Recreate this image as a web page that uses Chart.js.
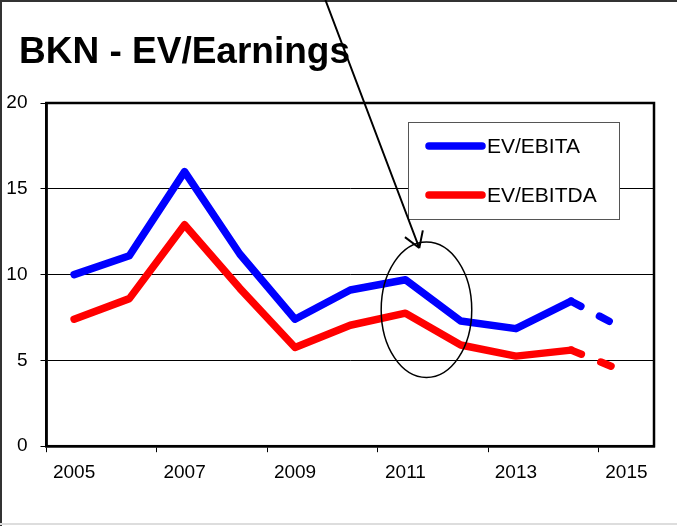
<!DOCTYPE html>
<html>
<head>
<meta charset="utf-8">
<script src="https://cdn.jsdelivr.net/npm/chart.js@4/dist/chart.umd.min.js"></script>
<style>
  body { margin: 0; background: #fff; }
  canvas { display: block; }
</style>
</head>
<body>
<canvas id="evChart" width="677" height="526"></canvas>
<script>
// data
const years = ['2005', '2006', '2007', '2008', '2009', '2010', '2011', '2012', '2013', '2014', '2015'];
const evEbita = [10.0, 11.1, 16.0, 11.2, 7.4, 9.1, 9.7, 7.3, 6.85, 8.45, 6.75];
const evEbitda = [7.4, 8.6, 12.9, 9.2, 5.75, 7.05, 7.75, 5.9, 5.25, 5.6, 4.3];
const yTicks = [0, 5, 10, 15, 20];
const chartTitle = 'BKN - EV/Earnings';

const FONT = '"Liberation Sans", Arial, sans-serif';

// last segment (estimate) is dashed
const dashLast = ctx => ctx.p1DataIndex === years.length - 1 ? [11, 21] : undefined;

// frame, title, plot box, legend box, circle and arrow
const extras = {
  id: 'extras',
  beforeDraw(chart) {
    const c = chart.ctx;
    c.save();
    c.fillStyle = '#fff';
    c.fillRect(0, 0, chart.width, chart.height);
    c.strokeStyle = '#333';
    c.lineWidth = 2;
    c.beginPath();
    c.moveTo(1, chart.height);
    c.lineTo(1, 1);
    c.lineTo(chart.width, 1);
    c.stroke();
    c.strokeStyle = '#ddd';
    c.beginPath();
    c.moveTo(0, chart.height - 2);
    c.lineTo(chart.width, chart.height - 2);
    c.stroke();
    // title
    c.fillStyle = '#000';
    c.font = 'bold 37px ' + FONT;
    c.textBaseline = 'alphabetic';
    c.fillText(chartTitle, 19, 63);
    c.restore();
  },
  afterDraw(chart) {
    const c = chart.ctx;
    const a = chart.chartArea;
    const x = chart.scales.x, y = chart.scales.y;
    c.save();
    // plot box
    c.strokeStyle = '#000';
    c.lineWidth = 2.5;
    c.strokeRect(a.left, a.top, a.right - a.left, a.bottom - a.top);

    // legend
    const lx = 408, ly = 122, lw = 211, lh = 97;
    c.fillStyle = '#fff';
    c.fillRect(lx, ly, lw, lh);
    c.strokeStyle = '#555';
    c.lineWidth = 1;
    c.strokeRect(lx + 0.5, ly + 0.5, lw, lh);
    c.font = '21px ' + FONT;
    c.textBaseline = 'middle';
    c.lineCap = 'round';
    chart.data.datasets.forEach((ds, i) => {
      const yy = ly + 24 + i * 49;
      c.strokeStyle = ds.borderColor;
      c.lineWidth = 7.5;
      c.beginPath();
      c.moveTo(lx + 21, yy);
      c.lineTo(lx + 74, yy);
      c.stroke();
      c.fillStyle = '#000';
      c.fillText(ds.label, lx + 79, yy + 1);
    });

    // ellipse around 2011
    const cx = x.getPixelForValue(6.38), cy = y.getPixelForValue(7.95);
    const rx = x.getPixelForValue(7.2) - x.getPixelForValue(6.38);
    const ry = y.getPixelForValue(7.95) - y.getPixelForValue(11.9);
    c.strokeStyle = '#000';
    c.lineWidth = 1.5;
    c.beginPath();
    c.ellipse(cx, cy, rx, ry, 0, 0, Math.PI * 2);
    c.stroke();

    // arrow
    const tx = x.getPixelForValue(6.25), ty = y.getPixelForValue(11.55);
    const sx = x.getPixelForValue(4.55), sy = 0;
    const ang = Math.atan2(ty - sy, tx - sx);
    c.lineWidth = 2;
    c.lineCap = 'butt';
    c.beginPath();
    c.moveTo(sx, sy);
    c.lineTo(tx, ty);
    [-0.56, 0.56].forEach(d => {
      c.moveTo(tx, ty);
      c.lineTo(tx - 18 * Math.cos(ang + d), ty - 18 * Math.sin(ang + d));
    });
    c.stroke();
    c.restore();
  }
};

new Chart(document.getElementById('evChart'), {
  type: 'line',
  data: {
    labels: years,
    datasets: [{
      label: 'EV/EBITA',
      data: evEbita,
      borderColor: '#0000ff',
      borderWidth: 7.5,
      borderCapStyle: 'round',
      borderJoinStyle: 'round',
      pointRadius: 0,
      tension: 0,
      segment: { borderDash: dashLast }
    }, {
      label: 'EV/EBITDA',
      data: evEbitda,
      borderColor: '#ff0000',
      borderWidth: 7.5,
      borderCapStyle: 'round',
      borderJoinStyle: 'round',
      pointRadius: 0,
      tension: 0,
      segment: { borderDash: dashLast }
    }]
  },
  options: {
    responsive: false,
    animation: false,
    layout: { padding: { left: 4, right: 23, top: 103, bottom: 33 } },
    plugins: {
      legend: { display: false },
      tooltip: { enabled: false },
      title: { display: false }
    },
    scales: {
      x: {
        type: 'category',
        offset: true,
        grid: {
          offset: true,
          drawOnChartArea: false,
          drawTicks: true,
          tickLength: 6,
          lineWidth: 1,
          color: ctx => ctx.index % 2 === 0 ? '#000' : 'rgba(0,0,0,0)'
        },
        border: { color: '#000', width: 2.5 },
        ticks: {
          autoSkip: false,
          maxRotation: 0,
          color: '#000',
          padding: 9,
          font: { family: FONT, size: 19 },
          callback: (v, i) => i % 2 === 0 ? years[i] : ''
        }
      },
      y: {
        min: yTicks[0],
        max: yTicks[yTicks.length - 1],
        afterFit: s => { s.width = 42.5; },
        afterBuildTicks: s => { s.ticks = yTicks.map(v => ({ value: v })); },
        grid: { color: '#000', lineWidth: 1, drawTicks: true, tickLength: 6 },
        border: { color: '#000', width: 2.5 },
        ticks: {
          color: '#000',
          padding: 13,
          font: { family: FONT, size: 19 }
        }
      }
    }
  },
  plugins: [extras]
});
</script>
</body>
</html>
